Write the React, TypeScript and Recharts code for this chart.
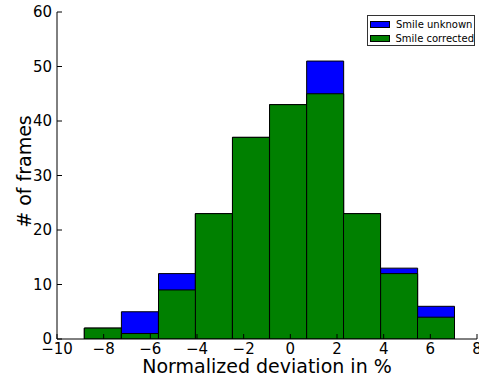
import React from 'react';
import { ComposedChart, Bar, XAxis, YAxis, Legend } from 'recharts';

const binCenters = [-8.04, -6.45, -4.86, -3.28, -1.69, -0.1, 1.49, 3.07, 4.66, 6.24];
const smileUnknown = [2, 5, 12, 23, 37, 43, 51, 23, 13, 6];
const smileCorrected = [2, 1, 9, 23, 37, 43, 45, 23, 12, 4];
const xTicks = [-10, -8, -6, -4, -2, 0, 2, 4, 6, 8];
const yTicks = [0, 10, 20, 30, 40, 50, 60];
const seriesNames = ['Smile unknown', 'Smile corrected'];
const seriesColors = ['#0000ff', '#008000'];

const data = binCenters.map((x, i) => ({
  x,
  unknown: smileUnknown[i],
  corrected: smileCorrected[i],
}));

const font = '"DejaVu Sans", sans-serif';
const fmt = (v: number) => String(v).replace('-', '\u2212');

const YTitle = (props: any) => {
  const vb = props.viewBox || { x: 0, y: 12, width: 57, height: 327 };
  const cx = vb.x + 24;
  const cy = vb.y + vb.height / 2 - 4;
  return (
    <text
      x={cx}
      y={cy}
      transform={`rotate(-90, ${cx}, ${cy})`}
      textAnchor="middle"
      dominantBaseline="central"
      fontSize={19}
      fontFamily={font}
      fill="#000"
    >
      # of frames
    </text>
  );
};

const renderLegend = () => (
  <div
    style={{
      boxSizing: 'border-box',
      width: 108,
      height: 31,
      border: '1px solid #333',
      background: '#fff',
      padding: '1px 0 0 2px',
      fontFamily: font,
      fontSize: 10,
      color: '#000',
    }}
  >
    {seriesNames.map((name, i) => (
      <div key={name} style={{ display: 'flex', alignItems: 'center', height: 14 }}>
        <span
          style={{
            boxSizing: 'border-box',
            display: 'inline-block',
            width: 20,
            height: 7,
            background: seriesColors[i],
            border: '1px solid #000',
          }}
        />
        <span style={{ marginLeft: 6, whiteSpace: 'nowrap' }}>{name}</span>
      </div>
    ))}
  </div>
);

export default function App() {
  const tick = { fill: '#000', fontSize: 15, fontFamily: font };
  const line = { stroke: '#000' };
  return (
    <div style={{ position: 'absolute', left: 0, top: 0 }}>
      <ComposedChart
        width={479}
        height={378}
        data={data}
        margin={{ top: 12, right: 2, bottom: 0, left: 0 }}
        barCategoryGap={0}
        barGap={0}
      >
        <XAxis
          dataKey="x"
          type="number"
          domain={[-10, 8]}
          ticks={xTicks}
          allowDataOverflow
          height={39}
          tick={tick}
          tickFormatter={fmt}
          tickLine={line}
          axisLine={line}
          tickSize={-5}
          tickMargin={9}
          interval={0}
          label={{
            value: 'Normalized deviation in %',
            position: 'insideBottom',
            offset: 5,
            fontSize: 19,
            fontFamily: font,
            fill: '#000',
          }}
        />
        <XAxis xAxisId="g" dataKey="x" type="number" domain={[-10, 8]} allowDataOverflow hide />
        <XAxis
          xAxisId="top"
          orientation="top"
          type="number"
          domain={[-10, 8]}
          ticks={xTicks}
          allowDataOverflow
          height={0}
          tick={false}
          tickLine={line}
          axisLine={line}
          tickSize={-5}
          interval={0}
        />
        <YAxis
          type="number"
          domain={[0, 60]}
          ticks={yTicks}
          allowDataOverflow
          width={57}
          tick={tick}
          tickLine={line}
          axisLine={line}
          tickSize={-5}
          tickMargin={10}
          interval={0}
          label={<YTitle />}
        />
        <YAxis
          yAxisId="right"
          orientation="right"
          type="number"
          domain={[0, 60]}
          ticks={yTicks}
          allowDataOverflow
          width={0}
          tick={false}
          tickLine={line}
          axisLine={line}
          tickSize={-5}
          interval={0}
        />
        <Legend
          layout="vertical"
          align="center"
          verticalAlign="middle"
          content={renderLegend}
          wrapperStyle={{ left: 367, top: 15, width: 'auto', height: 'auto' }}
        />
        <Bar
          dataKey="unknown"
          name={seriesNames[0]}
          fill={seriesColors[0]}
          stroke="#000"
          strokeWidth={1}
          isAnimationActive={false}
        />
        <Bar
          dataKey="corrected"
          xAxisId="g"
          name={seriesNames[1]}
          fill={seriesColors[1]}
          stroke="#000"
          strokeWidth={1}
          isAnimationActive={false}
        />
      </ComposedChart>
    </div>
  );
}
